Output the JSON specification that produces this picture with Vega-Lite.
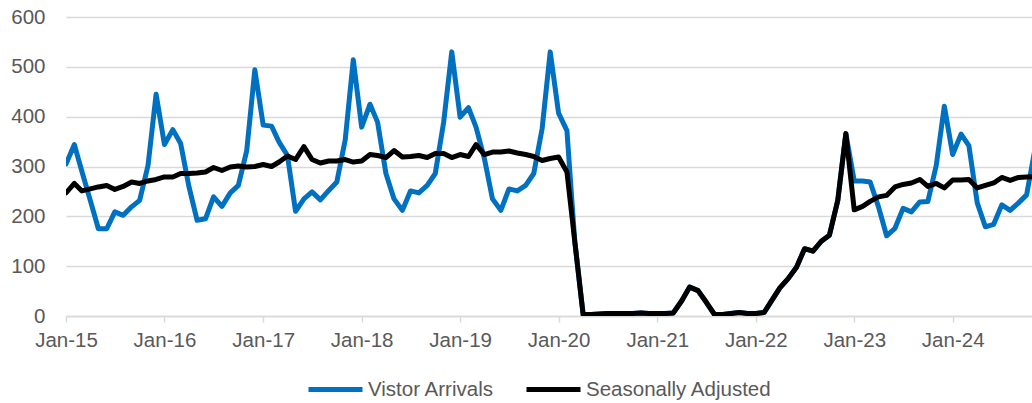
{
  "$schema": "https://vega.github.io/schema/vega-lite/v6.json",
  "width": 966,
  "height": 299,
  "autosize": {"type": "none"},
  "padding": {"left": 66, "top": 17, "right": 0, "bottom": 87},
  "background": "white",
  "config": {"view": {"stroke": null}, "font": "Liberation Sans"},
  "data": {"values": [
    {"d":"2015/01/01","s":"Vistor Arrivals","v":305},{"d":"2015/02/01","s":"Vistor Arrivals","v":344},{"d":"2015/03/01","s":"Vistor Arrivals","v":290},{"d":"2015/04/01","s":"Vistor Arrivals","v":232},{"d":"2015/05/01","s":"Vistor Arrivals","v":175},{"d":"2015/06/01","s":"Vistor Arrivals","v":175},{"d":"2015/07/01","s":"Vistor Arrivals","v":209},{"d":"2015/08/01","s":"Vistor Arrivals","v":202},{"d":"2015/09/01","s":"Vistor Arrivals","v":219},{"d":"2015/10/01","s":"Vistor Arrivals","v":232},{"d":"2015/11/01","s":"Vistor Arrivals","v":302},{"d":"2015/12/01","s":"Vistor Arrivals","v":445},
    {"d":"2016/01/01","s":"Vistor Arrivals","v":344},{"d":"2016/02/01","s":"Vistor Arrivals","v":374},{"d":"2016/03/01","s":"Vistor Arrivals","v":346},{"d":"2016/04/01","s":"Vistor Arrivals","v":259},{"d":"2016/05/01","s":"Vistor Arrivals","v":192},{"d":"2016/06/01","s":"Vistor Arrivals","v":195},{"d":"2016/07/01","s":"Vistor Arrivals","v":239},{"d":"2016/08/01","s":"Vistor Arrivals","v":220},{"d":"2016/09/01","s":"Vistor Arrivals","v":247},{"d":"2016/10/01","s":"Vistor Arrivals","v":262},{"d":"2016/11/01","s":"Vistor Arrivals","v":332},{"d":"2016/12/01","s":"Vistor Arrivals","v":494},
    {"d":"2017/01/01","s":"Vistor Arrivals","v":383},{"d":"2017/02/01","s":"Vistor Arrivals","v":381},{"d":"2017/03/01","s":"Vistor Arrivals","v":349},{"d":"2017/04/01","s":"Vistor Arrivals","v":322},{"d":"2017/05/01","s":"Vistor Arrivals","v":210},{"d":"2017/06/01","s":"Vistor Arrivals","v":235},{"d":"2017/07/01","s":"Vistor Arrivals","v":249},{"d":"2017/08/01","s":"Vistor Arrivals","v":233},{"d":"2017/09/01","s":"Vistor Arrivals","v":252},{"d":"2017/10/01","s":"Vistor Arrivals","v":269},{"d":"2017/11/01","s":"Vistor Arrivals","v":353},{"d":"2017/12/01","s":"Vistor Arrivals","v":514},
    {"d":"2018/01/01","s":"Vistor Arrivals","v":379},{"d":"2018/02/01","s":"Vistor Arrivals","v":425},{"d":"2018/03/01","s":"Vistor Arrivals","v":389},{"d":"2018/04/01","s":"Vistor Arrivals","v":286},{"d":"2018/05/01","s":"Vistor Arrivals","v":235},{"d":"2018/06/01","s":"Vistor Arrivals","v":212},{"d":"2018/07/01","s":"Vistor Arrivals","v":251},{"d":"2018/08/01","s":"Vistor Arrivals","v":247},{"d":"2018/09/01","s":"Vistor Arrivals","v":262},{"d":"2018/10/01","s":"Vistor Arrivals","v":286},{"d":"2018/11/01","s":"Vistor Arrivals","v":389},{"d":"2018/12/01","s":"Vistor Arrivals","v":530},
    {"d":"2019/01/01","s":"Vistor Arrivals","v":399},{"d":"2019/02/01","s":"Vistor Arrivals","v":418},{"d":"2019/03/01","s":"Vistor Arrivals","v":379},{"d":"2019/04/01","s":"Vistor Arrivals","v":316},{"d":"2019/05/01","s":"Vistor Arrivals","v":235},{"d":"2019/06/01","s":"Vistor Arrivals","v":212},{"d":"2019/07/01","s":"Vistor Arrivals","v":255},{"d":"2019/08/01","s":"Vistor Arrivals","v":251},{"d":"2019/09/01","s":"Vistor Arrivals","v":262},{"d":"2019/10/01","s":"Vistor Arrivals","v":286},{"d":"2019/11/01","s":"Vistor Arrivals","v":376},{"d":"2019/12/01","s":"Vistor Arrivals","v":530},
    {"d":"2020/01/01","s":"Vistor Arrivals","v":407},{"d":"2020/02/01","s":"Vistor Arrivals","v":372},{"d":"2020/03/01","s":"Vistor Arrivals","v":150},{"d":"2020/04/01","s":"Vistor Arrivals","v":3},{"d":"2020/05/01","s":"Vistor Arrivals","v":3},{"d":"2020/06/01","s":"Vistor Arrivals","v":4},{"d":"2020/07/01","s":"Vistor Arrivals","v":5},{"d":"2020/08/01","s":"Vistor Arrivals","v":5},{"d":"2020/09/01","s":"Vistor Arrivals","v":5},{"d":"2020/10/01","s":"Vistor Arrivals","v":5},{"d":"2020/11/01","s":"Vistor Arrivals","v":6},{"d":"2020/12/01","s":"Vistor Arrivals","v":5},
    {"d":"2021/01/01","s":"Vistor Arrivals","v":5},{"d":"2021/02/01","s":"Vistor Arrivals","v":5},{"d":"2021/03/01","s":"Vistor Arrivals","v":6},{"d":"2021/04/01","s":"Vistor Arrivals","v":30},{"d":"2021/05/01","s":"Vistor Arrivals","v":58},{"d":"2021/06/01","s":"Vistor Arrivals","v":51},{"d":"2021/07/01","s":"Vistor Arrivals","v":28},{"d":"2021/08/01","s":"Vistor Arrivals","v":3},{"d":"2021/09/01","s":"Vistor Arrivals","v":3},{"d":"2021/10/01","s":"Vistor Arrivals","v":5},{"d":"2021/11/01","s":"Vistor Arrivals","v":7},{"d":"2021/12/01","s":"Vistor Arrivals","v":5},
    {"d":"2022/01/01","s":"Vistor Arrivals","v":5},{"d":"2022/02/01","s":"Vistor Arrivals","v":7},{"d":"2022/03/01","s":"Vistor Arrivals","v":31},{"d":"2022/04/01","s":"Vistor Arrivals","v":57},{"d":"2022/05/01","s":"Vistor Arrivals","v":75},{"d":"2022/06/01","s":"Vistor Arrivals","v":98},{"d":"2022/07/01","s":"Vistor Arrivals","v":135},{"d":"2022/08/01","s":"Vistor Arrivals","v":130},{"d":"2022/09/01","s":"Vistor Arrivals","v":150},{"d":"2022/10/01","s":"Vistor Arrivals","v":162},{"d":"2022/11/01","s":"Vistor Arrivals","v":232},{"d":"2022/12/01","s":"Vistor Arrivals","v":366},
    {"d":"2023/01/01","s":"Vistor Arrivals","v":271},{"d":"2023/02/01","s":"Vistor Arrivals","v":271},{"d":"2023/03/01","s":"Vistor Arrivals","v":269},{"d":"2023/04/01","s":"Vistor Arrivals","v":219},{"d":"2023/05/01","s":"Vistor Arrivals","v":161},{"d":"2023/06/01","s":"Vistor Arrivals","v":176},{"d":"2023/07/01","s":"Vistor Arrivals","v":216},{"d":"2023/08/01","s":"Vistor Arrivals","v":209},{"d":"2023/09/01","s":"Vistor Arrivals","v":229},{"d":"2023/10/01","s":"Vistor Arrivals","v":230},{"d":"2023/11/01","s":"Vistor Arrivals","v":302},{"d":"2023/12/01","s":"Vistor Arrivals","v":421},
    {"d":"2024/01/01","s":"Vistor Arrivals","v":324},{"d":"2024/02/01","s":"Vistor Arrivals","v":365},{"d":"2024/03/01","s":"Vistor Arrivals","v":342},{"d":"2024/04/01","s":"Vistor Arrivals","v":227},{"d":"2024/05/01","s":"Vistor Arrivals","v":179},{"d":"2024/06/01","s":"Vistor Arrivals","v":184},{"d":"2024/07/01","s":"Vistor Arrivals","v":223},{"d":"2024/08/01","s":"Vistor Arrivals","v":212},{"d":"2024/09/01","s":"Vistor Arrivals","v":227},{"d":"2024/10/01","s":"Vistor Arrivals","v":243},{"d":"2024/11/01","s":"Vistor Arrivals","v":335},
    {"d":"2015/01/01","s":"Seasonally Adjusted","v":247},{"d":"2015/02/01","s":"Seasonally Adjusted","v":266},{"d":"2015/03/01","s":"Seasonally Adjusted","v":251},{"d":"2015/04/01","s":"Seasonally Adjusted","v":255},{"d":"2015/05/01","s":"Seasonally Adjusted","v":259},{"d":"2015/06/01","s":"Seasonally Adjusted","v":262},{"d":"2015/07/01","s":"Seasonally Adjusted","v":254},{"d":"2015/08/01","s":"Seasonally Adjusted","v":260},{"d":"2015/09/01","s":"Seasonally Adjusted","v":269},{"d":"2015/10/01","s":"Seasonally Adjusted","v":266},{"d":"2015/11/01","s":"Seasonally Adjusted","v":271},{"d":"2015/12/01","s":"Seasonally Adjusted","v":274},
    {"d":"2016/01/01","s":"Seasonally Adjusted","v":279},{"d":"2016/02/01","s":"Seasonally Adjusted","v":279},{"d":"2016/03/01","s":"Seasonally Adjusted","v":286},{"d":"2016/04/01","s":"Seasonally Adjusted","v":286},{"d":"2016/05/01","s":"Seasonally Adjusted","v":287},{"d":"2016/06/01","s":"Seasonally Adjusted","v":289},{"d":"2016/07/01","s":"Seasonally Adjusted","v":298},{"d":"2016/08/01","s":"Seasonally Adjusted","v":292},{"d":"2016/09/01","s":"Seasonally Adjusted","v":299},{"d":"2016/10/01","s":"Seasonally Adjusted","v":301},{"d":"2016/11/01","s":"Seasonally Adjusted","v":299},{"d":"2016/12/01","s":"Seasonally Adjusted","v":300},
    {"d":"2017/01/01","s":"Seasonally Adjusted","v":304},{"d":"2017/02/01","s":"Seasonally Adjusted","v":300},{"d":"2017/03/01","s":"Seasonally Adjusted","v":309},{"d":"2017/04/01","s":"Seasonally Adjusted","v":321},{"d":"2017/05/01","s":"Seasonally Adjusted","v":314},{"d":"2017/06/01","s":"Seasonally Adjusted","v":340},{"d":"2017/07/01","s":"Seasonally Adjusted","v":314},{"d":"2017/08/01","s":"Seasonally Adjusted","v":307},{"d":"2017/09/01","s":"Seasonally Adjusted","v":311},{"d":"2017/10/01","s":"Seasonally Adjusted","v":311},{"d":"2017/11/01","s":"Seasonally Adjusted","v":314},{"d":"2017/12/01","s":"Seasonally Adjusted","v":309},
    {"d":"2018/01/01","s":"Seasonally Adjusted","v":311},{"d":"2018/02/01","s":"Seasonally Adjusted","v":324},{"d":"2018/03/01","s":"Seasonally Adjusted","v":322},{"d":"2018/04/01","s":"Seasonally Adjusted","v":318},{"d":"2018/05/01","s":"Seasonally Adjusted","v":332},{"d":"2018/06/01","s":"Seasonally Adjusted","v":319},{"d":"2018/07/01","s":"Seasonally Adjusted","v":320},{"d":"2018/08/01","s":"Seasonally Adjusted","v":322},{"d":"2018/09/01","s":"Seasonally Adjusted","v":318},{"d":"2018/10/01","s":"Seasonally Adjusted","v":326},{"d":"2018/11/01","s":"Seasonally Adjusted","v":326},{"d":"2018/12/01","s":"Seasonally Adjusted","v":318},
    {"d":"2019/01/01","s":"Seasonally Adjusted","v":324},{"d":"2019/02/01","s":"Seasonally Adjusted","v":320},{"d":"2019/03/01","s":"Seasonally Adjusted","v":344},{"d":"2019/04/01","s":"Seasonally Adjusted","v":324},{"d":"2019/05/01","s":"Seasonally Adjusted","v":329},{"d":"2019/06/01","s":"Seasonally Adjusted","v":329},{"d":"2019/07/01","s":"Seasonally Adjusted","v":331},{"d":"2019/08/01","s":"Seasonally Adjusted","v":327},{"d":"2019/09/01","s":"Seasonally Adjusted","v":324},{"d":"2019/10/01","s":"Seasonally Adjusted","v":320},{"d":"2019/11/01","s":"Seasonally Adjusted","v":312},{"d":"2019/12/01","s":"Seasonally Adjusted","v":316},
    {"d":"2020/01/01","s":"Seasonally Adjusted","v":319},{"d":"2020/02/01","s":"Seasonally Adjusted","v":289},{"d":"2020/03/01","s":"Seasonally Adjusted","v":150},{"d":"2020/04/01","s":"Seasonally Adjusted","v":3},{"d":"2020/05/01","s":"Seasonally Adjusted","v":3},{"d":"2020/06/01","s":"Seasonally Adjusted","v":4},{"d":"2020/07/01","s":"Seasonally Adjusted","v":5},{"d":"2020/08/01","s":"Seasonally Adjusted","v":5},{"d":"2020/09/01","s":"Seasonally Adjusted","v":5},{"d":"2020/10/01","s":"Seasonally Adjusted","v":5},{"d":"2020/11/01","s":"Seasonally Adjusted","v":6},{"d":"2020/12/01","s":"Seasonally Adjusted","v":5},
    {"d":"2021/01/01","s":"Seasonally Adjusted","v":5},{"d":"2021/02/01","s":"Seasonally Adjusted","v":5},{"d":"2021/03/01","s":"Seasonally Adjusted","v":6},{"d":"2021/04/01","s":"Seasonally Adjusted","v":30},{"d":"2021/05/01","s":"Seasonally Adjusted","v":58},{"d":"2021/06/01","s":"Seasonally Adjusted","v":51},{"d":"2021/07/01","s":"Seasonally Adjusted","v":28},{"d":"2021/08/01","s":"Seasonally Adjusted","v":3},{"d":"2021/09/01","s":"Seasonally Adjusted","v":3},{"d":"2021/10/01","s":"Seasonally Adjusted","v":5},{"d":"2021/11/01","s":"Seasonally Adjusted","v":7},{"d":"2021/12/01","s":"Seasonally Adjusted","v":5},
    {"d":"2022/01/01","s":"Seasonally Adjusted","v":5},{"d":"2022/02/01","s":"Seasonally Adjusted","v":7},{"d":"2022/03/01","s":"Seasonally Adjusted","v":31},{"d":"2022/04/01","s":"Seasonally Adjusted","v":57},{"d":"2022/05/01","s":"Seasonally Adjusted","v":75},{"d":"2022/06/01","s":"Seasonally Adjusted","v":98},{"d":"2022/07/01","s":"Seasonally Adjusted","v":135},{"d":"2022/08/01","s":"Seasonally Adjusted","v":130},{"d":"2022/09/01","s":"Seasonally Adjusted","v":150},{"d":"2022/10/01","s":"Seasonally Adjusted","v":162},{"d":"2022/11/01","s":"Seasonally Adjusted","v":232},{"d":"2022/12/01","s":"Seasonally Adjusted","v":366},
    {"d":"2023/01/01","s":"Seasonally Adjusted","v":213},{"d":"2023/02/01","s":"Seasonally Adjusted","v":220},{"d":"2023/03/01","s":"Seasonally Adjusted","v":230},{"d":"2023/04/01","s":"Seasonally Adjusted","v":239},{"d":"2023/05/01","s":"Seasonally Adjusted","v":242},{"d":"2023/06/01","s":"Seasonally Adjusted","v":259},{"d":"2023/07/01","s":"Seasonally Adjusted","v":264},{"d":"2023/08/01","s":"Seasonally Adjusted","v":267},{"d":"2023/09/01","s":"Seasonally Adjusted","v":274},{"d":"2023/10/01","s":"Seasonally Adjusted","v":260},{"d":"2023/11/01","s":"Seasonally Adjusted","v":266},{"d":"2023/12/01","s":"Seasonally Adjusted","v":257},
    {"d":"2024/01/01","s":"Seasonally Adjusted","v":273},{"d":"2024/02/01","s":"Seasonally Adjusted","v":273},{"d":"2024/03/01","s":"Seasonally Adjusted","v":274},{"d":"2024/04/01","s":"Seasonally Adjusted","v":257},{"d":"2024/05/01","s":"Seasonally Adjusted","v":262},{"d":"2024/06/01","s":"Seasonally Adjusted","v":267},{"d":"2024/07/01","s":"Seasonally Adjusted","v":278},{"d":"2024/08/01","s":"Seasonally Adjusted","v":272},{"d":"2024/09/01","s":"Seasonally Adjusted","v":278},{"d":"2024/10/01","s":"Seasonally Adjusted","v":279},{"d":"2024/11/01","s":"Seasonally Adjusted","v":280}
  ]},
  "encoding": {
    "x": {
      "field": "d", "type": "temporal",
      "scale": {"domain": [{"year": 2015, "month": 1, "date": 1}, {"year": 2024, "month": 10, "date": 21}]},
      "axis": {
        "title": null, "format": "%b-%y", "tickCount": {"interval": "year", "step": 1},
        "grid": false, "domainColor": "#d9d9d9", "domainWidth": 1.5,
        "tickColor": "#d9d9d9", "tickWidth": 1.5, "tickSize": 6,
        "labelFont": "Liberation Sans", "labelFontSize": 20.5, "labelColor": "#595959",
        "labelPadding": 8, "labelFlush": false, "labelOverlap": false
      }
    },
    "y": {
      "field": "v", "type": "quantitative",
      "scale": {"domain": [0, 600], "nice": false},
      "axis": {
        "title": null, "values": [0, 100, 200, 300, 400, 500, 600],
        "domain": false, "ticks": false, "grid": true, "gridColor": "#d9d9d9", "gridWidth": 1.5,
        "labelFont": "Liberation Sans", "labelFontSize": 20.5, "labelColor": "#595959",
        "labelPadding": 21
      }
    },
    "color": {
      "field": "s", "type": "nominal",
      "scale": {"domain": ["Vistor Arrivals", "Seasonally Adjusted"], "range": ["#0070C0", "#000000"]},
      "legend": {
        "title": null, "orient": "none", "direction": "horizontal",
        "legendX": 240, "legendY": 343, "padding": 0,
        "symbolType": "stroke", "symbolSize": 2916, "symbolStrokeWidth": 5,
        "labelFont": "Liberation Sans", "labelFontSize": 20.5, "labelColor": "#595959",
        "labelOffset": 3, "labelLimit": 0, "columnPadding": 21
      }
    }
  },
  "layer": [
    {"transform": [{"filter": "datum.s == 'Vistor Arrivals'"}], "mark": {"type": "line", "strokeWidth": 5, "clip": true, "strokeJoin": "round", "strokeCap": "round"}},
    {"transform": [{"filter": "datum.s == 'Seasonally Adjusted'"}], "mark": {"type": "line", "strokeWidth": 5, "clip": true, "strokeJoin": "round", "strokeCap": "round"}}
  ]
}
